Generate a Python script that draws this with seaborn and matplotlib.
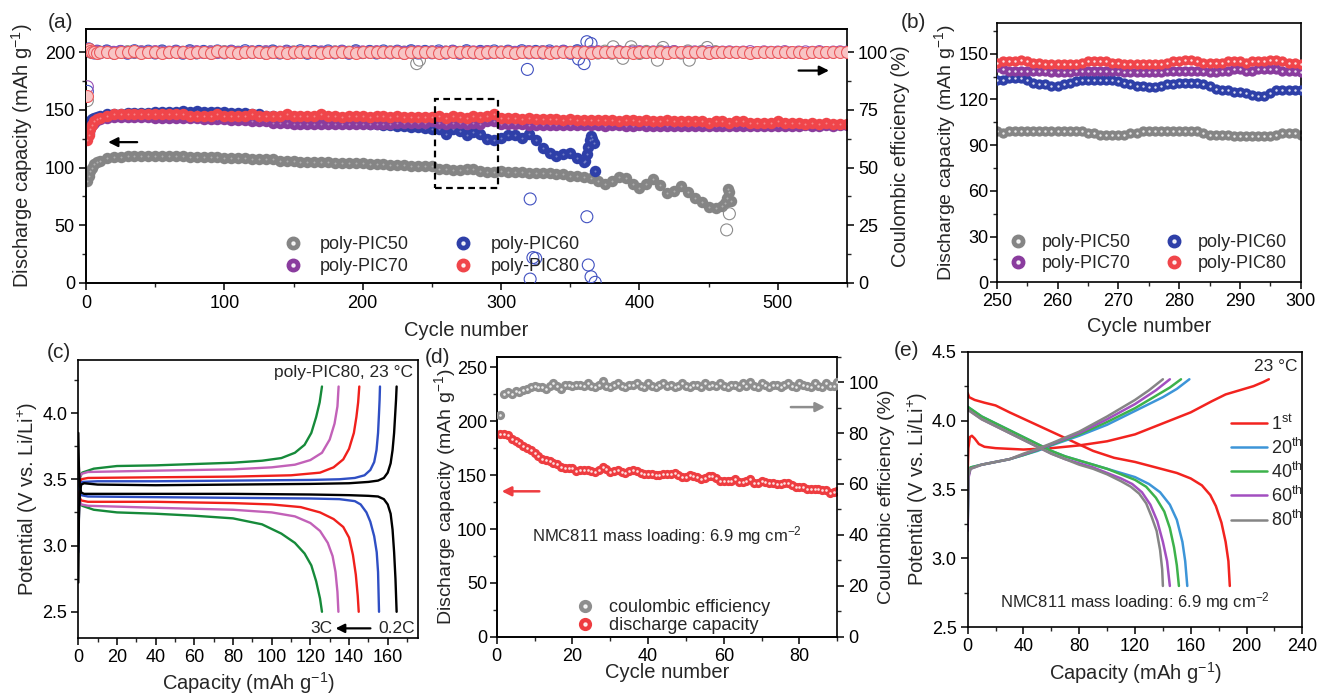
import matplotlib
matplotlib.use("Agg")
import matplotlib.pyplot as plt
from matplotlib.lines import Line2D
from matplotlib.ticker import MultipleLocator, FormatStrFormatter
import seaborn as sns

W, H = 1317, 694

# ---------------------------------------------------------------------------
# (a) long-term cycling at 23 degC (cycle grid shared by all four electrolytes)
# ---------------------------------------------------------------------------
CYCLES_A = [1, 2, 3, 4, 6, 8, 10] + list(range(15, 551, 5))

CAP_PIC50 = [88, 93, 97, 100, 103, 105, 106,
             108, 109, 109, 110, 110, 110, 110, 110, 110, 110,
             110, 110, 109, 109, 109, 109, 109, 108, 108, 108,
             108, 107, 107, 107, 107, 106, 106, 106, 105, 105,
             105, 105, 105, 104, 104, 104, 104, 104, 103, 103,
             103, 102, 102, 102, 101, 101, 101, 101, 99, 99,
             98, 98, 99, 99, 97, 96, 96, 97, 96, 96,
             96, 95, 95, 95, 95, 94, 94, 93, 93, 92,
             91, 88, 86, 88, 92, 91, 86, 82, 86, 90,
             85, 78, 80, 84, 79, 74, 70, 66, 65, 67]
CAP_PIC50_END_CYC = [462, 463, 464, 465, 466]
CAP_PIC50_END = [69, 74, 81, 79, 71]

CAP_PIC60 = [133, 137, 140, 142, 143, 144, 145,
             146, 146, 146, 147, 147, 147, 147, 148, 148, 148,
             148, 149, 148, 149, 148, 148, 148, 148, 147, 147,
             147, 146, 146, 145, 145, 144, 144, 143, 143, 142,
             142, 142, 141, 141, 140, 140, 139, 139, 138, 138,
             137, 137, 136, 136, 135, 135, 134, 133, 133, 129,
             133, 132, 128, 131, 129, 125, 124, 126, 128, 128,
             126, 129, 124, 117, 113, 110, 112, 113, 108, 105]
CAP_PIC60_END_CYC = [361, 362, 363, 364, 365, 366, 367, 368]
CAP_PIC60_END = [106, 112, 118, 124, 127, 125, 121, 97]

CAP_PIC70 = [126, 130, 134, 137, 139, 141, 142,
             143, 144, 144, 144, 144, 144, 144, 143, 143, 143,
             143, 143, 143, 143, 142, 142, 142, 142, 141, 141,
             141, 140, 140, 140, 139, 139, 139, 138, 138, 138,
             138, 138, 138, 138, 138, 138, 138, 138, 138, 138,
             138, 138, 139, 139, 139, 139, 139, 140, 139, 138,
             139, 139, 138, 139, 138, 140, 140, 138, 138, 138,
             138, 137, 137, 137, 137, 137, 137, 137, 137, 137,
             137, 137, 136, 137, 137, 136, 136, 137, 136, 136,
             136, 136, 136, 136, 136, 136, 136, 136, 136, 136,
             136, 136, 136, 136, 136, 136, 136, 136, 136, 136,
             136, 137, 136, 136, 137, 136, 137, 137]

CAP_PIC80 = [124, 128, 133, 137, 140, 142, 143,
             145, 146, 146, 146, 146, 146, 146, 146, 146, 146,
             146, 146, 145, 145, 145, 145, 146, 145, 145, 145,
             145, 146, 145, 145, 145, 145, 146, 145, 145, 145,
             145, 146, 145, 145, 144, 145, 145, 145, 144, 145,
             145, 144, 145, 144, 144, 144, 144, 144, 145, 143,
             145, 144, 143, 145, 144, 145, 146, 143, 143, 143,
             142, 143, 142, 142, 142, 142, 141, 142, 141, 141,
             141, 141, 141, 141, 140, 141, 141, 140, 141, 140,
             140, 141, 140, 140, 140, 140, 140, 139, 140, 140,
             139, 140, 140, 139, 139, 139, 139, 140, 139, 139,
             139, 138, 139, 138, 139, 138, 138, 138]

CE_PIC50 = [79, 100.6, 100.2, 99.8, 100.1, 99.9, 100.0,
            100.3, 99.7, 100.0, 100.2, 99.8, 100.1, 99.9, 100.0, 100.2, 99.8,
            100.1, 99.9, 100.2, 99.7, 100.0, 100.1, 99.8, 100.2, 99.9, 100.0,
            99.8, 100.1, 100.0, 99.9, 100.2, 99.8, 100.0, 100.1, 99.9, 100.0,
            100.2, 99.8, 100.0, 100.1, 99.9, 100.0, 100.2, 99.8, 100.1, 99.9,
            100.0, 100.1, 99.8, 100.0, 100.2, 99.9, 100.0, 100.1, 99.8, 100.0,
            100.2, 99.9, 100.1, 99.8, 100.0, 100.2, 99.9, 100.0, 100.1, 99.8,
            100.0, 100.1, 99.9, 100.2, 99.8, 100.0, 100.1, 99.9, 100.3, 99.7,
            100.2, 99.6, 100.4, 99.5, 100.3, 99.7, 100.5, 99.4, 100.3, 99.8,
            100.4, 99.5, 100.2, 99.6, 100.5, 99.7, 100.3, 99.5, 100.2, 99.8]
CE_PIC50_ODD_CYC = [239, 241, 381, 388, 394, 413, 417, 436, 449, 463, 465]
CE_PIC50_ODD = [95.0, 96.5, 102.3, 97.3, 102.3, 96.5, 102.0, 96.5, 102.0, 23.0, 30.0]

CE_PIC60 = [83, 101.4, 100.6, 100.2, 99.6, 100.4, 99.7,
            100.5, 99.6, 100.3, 99.5, 100.6, 99.7, 100.4, 99.6, 100.5, 99.8,
            100.4, 99.5, 100.6, 99.7, 100.3, 99.6, 100.5, 99.7, 100.4, 99.5,
            100.6, 99.8, 100.3, 99.5, 100.5, 99.6, 100.4, 99.7, 100.6, 99.5,
            100.3, 99.6, 100.5, 99.7, 100.4, 99.5, 100.6, 99.8, 100.3, 99.6,
            100.5, 99.7, 100.4, 99.5, 100.6, 99.6, 100.3, 99.7, 100.5, 99.6,
            100.4, 99.5, 100.6, 99.7, 100.3, 99.6, 100.5, 99.8, 100.4, 99.5,
            100.6, 99.7, 100.3, 99.6, 100.5, 99.7, 100.4, 99.5, 100.6, 99.8]
CE_PIC60_ODD_CYC = [319, 321, 321, 323, 325, 356, 360, 362, 362, 363, 365, 365, 368]
CE_PIC60_ODD = [92.5, 36.4, 1.7, 11.0, 10.7, 97.0, 95.0, 104.5, 28.7, 7.8, 103.7, 2.7, 0.3]

CE_PIC70 = [85, 101.0, 100.4, 100.1, 99.9, 100.2, 99.8,
            100.1, 99.9, 100.2, 99.8, 100.0, 100.1, 99.9, 100.2, 99.8, 100.0,
            100.1, 99.9, 100.0, 100.2, 99.8, 100.1, 99.9, 100.0, 100.2, 99.8,
            100.0, 100.1, 99.9, 100.2, 99.8, 100.0, 100.1, 99.9, 100.0, 100.2,
            99.8, 100.1, 99.9, 100.0, 100.2, 99.8, 100.0, 100.1, 99.9, 100.2,
            99.8, 100.0, 100.1, 99.9, 100.0, 100.2, 99.8, 100.1, 99.9, 100.0,
            100.2, 99.8, 100.0, 100.1, 99.9, 100.2, 99.8, 100.0, 100.1, 99.9,
            100.0, 100.2, 99.8, 100.1, 99.9, 100.0, 100.2, 99.8, 100.0, 100.1,
            99.9, 100.2, 99.8, 100.0, 100.1, 99.9, 100.0, 100.2, 99.8, 100.1,
            99.9, 100.0, 100.2, 99.8, 100.0, 100.1, 99.9, 100.2, 99.8, 100.0,
            100.1, 99.9, 100.0, 100.2, 99.8, 100.1, 99.9, 100.0, 100.2, 99.8,
            100.0, 100.1, 99.9, 100.2, 99.8, 100.0, 100.1, 100.0]

CE_PIC80 = [81, 101.5, 100.5, 100.2, 100.0, 99.8, 100.0,
            100.2, 99.8, 100.1, 99.9, 100.3, 99.7, 100.0, 100.2, 99.8, 100.1,
            99.9, 100.2, 99.7, 100.1, 100.0, 99.8, 100.3, 99.9, 100.0, 99.8,
            100.1, 99.9, 100.2, 99.8, 100.0, 100.1, 99.7, 100.0, 100.2, 99.9,
            100.0, 99.8, 100.1, 100.0, 99.9, 100.2, 99.8, 100.0, 100.1, 99.9,
            100.1, 99.9, 100.0, 99.8, 100.2, 100.0, 99.9, 100.1, 99.8, 100.0,
            100.2, 99.9, 100.0, 100.1, 99.8, 100.0, 100.2, 99.9, 100.0, 99.8,
            100.1, 100.0, 99.9, 100.2, 99.8, 100.0, 100.1, 99.9, 100.0, 100.2,
            99.8, 100.0, 100.1, 99.9, 100.0, 100.2, 99.8, 100.0, 100.1, 99.9,
            100.0, 99.8, 100.2, 100.0, 99.9, 100.1, 100.0, 99.8, 100.1, 100.0,
            99.9, 100.2, 100.0, 99.8, 100.1, 99.9, 100.0, 100.2, 99.9, 100.0,
            100.1, 99.8, 100.0, 100.2, 99.9, 100.0, 100.1, 99.9]

# ---------------------------------------------------------------------------
# (b) close-up of cycles 250-300
# ---------------------------------------------------------------------------
CYCLES_B = list(range(250, 301))
B_PIC50 = [99, 98, 99, 99, 99, 99, 99, 99, 99, 99,
           99, 99, 99, 99, 99, 98, 98, 97, 97, 97,
           97, 97, 98, 98, 99, 99, 99, 99, 99, 99,
           99, 99, 99, 99, 98, 97, 97, 97, 97, 96,
           96, 96, 96, 96, 96, 96, 97, 98, 98, 98, 97]
B_PIC60 = [133, 133, 134, 134, 134, 133, 131, 130, 130, 129,
           129, 130, 131, 132, 133, 133, 133, 133, 133, 133,
           132, 131, 130, 129, 129, 128, 128, 129, 130, 130,
           131, 131, 131, 131, 130, 129, 127, 126, 126, 125,
           125, 124, 123, 122, 122, 124, 126, 126, 126, 126, 126]
B_PIC70 = [141, 140, 139, 139, 139, 139, 139, 139, 139, 138,
           138, 138, 138, 139, 139, 139, 139, 139, 139, 139,
           139, 138, 138, 138, 138, 138, 138, 138, 139, 139,
           139, 139, 139, 139, 139, 138, 138, 139, 139, 140,
           140, 139, 139, 140, 140, 140, 140, 139, 139, 139, 138]
B_PIC80 = [144, 145, 145, 145, 146, 145, 144, 144, 143, 143,
           143, 143, 143, 143, 144, 145, 145, 145, 145, 144,
           144, 143, 143, 143, 143, 143, 143, 143, 144, 145,
           145, 146, 146, 145, 144, 144, 144, 144, 145, 145,
           145, 144, 145, 145, 145, 146, 146, 145, 144, 144, 143]

# ---------------------------------------------------------------------------
# (c) rate capability of poly-PIC80 (capacity mAh/g, potential V)
# ---------------------------------------------------------------------------
CHG_02C_Q = [0, 0.3, 0.8, 1.5, 3, 10, 40, 80, 120, 140, 150, 155, 158, 160, 161.5, 162.5, 163.3, 163.9, 164.3, 164.6]
CHG_02C_V = [2.72, 3.20, 3.40, 3.46, 3.47, 3.46, 3.455, 3.46, 3.465, 3.47, 3.48, 3.49, 3.51, 3.55, 3.62, 3.72, 3.85, 4.00, 4.10, 4.20]
DIS_02C_Q = [0, 0.3, 0.8, 1.5, 3, 40, 80, 120, 140, 150, 155, 158, 160, 161.5, 162.5, 163.3, 164.0, 164.6]
DIS_02C_V = [3.85, 3.60, 3.45, 3.40, 3.39, 3.39, 3.39, 3.385, 3.38, 3.375, 3.37, 3.35, 3.31, 3.24, 3.12, 2.95, 2.75, 2.50]
CHG_05C_Q = [0, 0.4, 1, 2, 10, 40, 80, 120, 135, 143, 148, 151, 153, 154.2, 155, 155.5, 155.8, 156]
CHG_05C_V = [2.95, 3.30, 3.45, 3.48, 3.485, 3.485, 3.49, 3.495, 3.50, 3.51, 3.53, 3.57, 3.63, 3.72, 3.85, 4.00, 4.10, 4.20]
DIS_05C_Q = [0, 0.5, 1.5, 5, 40, 80, 120, 135, 143, 146, 149, 151, 153, 154.3, 155, 155.5]
DIS_05C_V = [3.50, 3.42, 3.38, 3.37, 3.365, 3.36, 3.355, 3.35, 3.335, 3.31, 3.25, 3.18, 3.07, 2.95, 2.80, 2.50]
CHG_1C_Q = [0, 0.5, 1.5, 5, 40, 80, 110, 125, 132, 137, 140, 142.5, 143.8, 144.7, 145.3]
CHG_1C_V = [3.33, 3.45, 3.50, 3.51, 3.515, 3.52, 3.53, 3.55, 3.59, 3.65, 3.73, 3.85, 3.97, 4.08, 4.20]
DIS_1C_Q = [0, 0.5, 1.5, 5, 40, 80, 100, 115, 125, 132, 137, 140, 142, 143.5, 144.5, 145]
DIS_1C_V = [3.42, 3.37, 3.34, 3.33, 3.33, 3.32, 3.31, 3.29, 3.25, 3.20, 3.14, 3.06, 2.93, 2.78, 2.62, 2.50]
CHG_2C_Q = [0, 0.5, 1.5, 5, 40, 80, 100, 112, 120, 126, 130, 132.5, 134, 134.6]
CHG_2C_V = [3.36, 3.50, 3.54, 3.555, 3.565, 3.575, 3.59, 3.61, 3.645, 3.70, 3.80, 3.92, 4.05, 4.20]
DIS_2C_Q = [0, 0.5, 1.5, 5, 40, 80, 100, 112, 120, 125, 129, 131.5, 133, 134, 134.5]
DIS_2C_V = [3.40, 3.34, 3.31, 3.30, 3.285, 3.27, 3.25, 3.22, 3.17, 3.11, 3.02, 2.92, 2.80, 2.65, 2.50]
CHG_3C_Q = [0, 0.5, 2, 8, 20, 40, 60, 80, 95, 105, 112, 117, 120.5, 123, 124.8, 126]
CHG_3C_V = [3.38, 3.50, 3.55, 3.58, 3.60, 3.605, 3.615, 3.625, 3.64, 3.66, 3.70, 3.76, 3.85, 3.97, 4.08, 4.20]
DIS_3C_Q = [0, 0.5, 2, 8, 20, 40, 60, 80, 95, 105, 112, 117, 120.5, 123, 125, 126]
DIS_3C_V = [3.38, 3.33, 3.30, 3.27, 3.25, 3.24, 3.225, 3.205, 3.16, 3.09, 3.02, 2.94, 2.85, 2.73, 2.60, 2.50]

# ---------------------------------------------------------------------------
# (d) NMC811 full cell cycling
# ---------------------------------------------------------------------------
CYCLES_D = list(range(1, 91))
D_CAPACITY = [188, 188, 187, 184, 182, 180, 177, 175, 173, 171,
              168, 165, 164, 163, 161, 160, 158, 157, 157, 157,
              154, 155, 155, 155, 154, 153, 155, 158, 156, 153,
              154, 155, 153, 152, 154, 155, 154, 152, 151, 151,
              151, 150, 150, 151, 151, 151, 152, 150, 148, 148,
              150, 149, 148, 146, 147, 149, 149, 147, 145, 145,
              145, 145, 146, 144, 144, 145, 146, 143, 143, 145,
              144, 143, 143, 142, 142, 143, 143, 141, 139, 139,
              139, 137, 137, 137, 137, 136, 136, 133, 134, 135]
D_CE = [87, 95.5, 96, 95.5, 96.5, 96, 97, 97.5, 98, 98.5,
        98, 98, 97.5, 98.5, 99.5, 98.5, 97.5, 99, 99, 98.5,
        99, 99, 98.5, 99.5, 98.5, 98, 99, 100.5, 98.5, 98,
        99, 99.5, 98.5, 98, 99, 99, 99.5, 98.5, 98, 99.5,
        98.5, 98, 99, 99.5, 98.5, 99, 98, 98.5, 99.5, 98.5,
        98, 99, 99, 98, 99.5, 98.5, 99, 98.5, 99.5, 98.5,
        98, 99, 99, 98, 99.5, 98.5, 100, 98.5, 98, 99.5,
        99, 98, 99, 99, 98, 99, 99.5, 98.5, 98, 99.5,
        99, 98.5, 98, 99.5, 98.5, 98, 99.5, 98.5, 98.5, 100]

# ---------------------------------------------------------------------------
# (e) NMC811 charge/discharge profiles
# ---------------------------------------------------------------------------
E_LABELS = ["1$^{\\mathrm{st}}$", "20$^{\\mathrm{th}}$", "40$^{\\mathrm{th}}$",
            "60$^{\\mathrm{th}}$", "80$^{\\mathrm{th}}$"]
E1_CHG_Q = [0, 0.5, 1.5, 3, 5, 8, 12, 20, 40, 60, 80, 100, 120, 140, 160, 175, 185, 195, 205, 212, 216]
E1_CHG_V = [3.62, 3.80, 3.88, 3.89, 3.87, 3.83, 3.81, 3.80, 3.79, 3.80, 3.82, 3.85, 3.90, 3.98, 4.06, 4.14, 4.19, 4.22, 4.25, 4.28, 4.30]
E1_DIS_Q = [0, 1, 5, 12, 20, 30, 45, 60, 75, 90, 105, 120, 135, 150, 160, 168, 174, 178, 182, 185, 187, 188]
E1_DIS_V = [4.20, 4.17, 4.15, 4.13, 4.11, 4.06, 3.99, 3.92, 3.85, 3.78, 3.73, 3.70, 3.66, 3.62, 3.58, 3.53, 3.46, 3.38, 3.26, 3.12, 2.98, 2.80]
E20_CHG_Q = [0, 0.5, 2, 10, 20, 30, 40, 50, 60, 80, 100, 120, 140, 150, 159]
E20_CHG_V = [3.25, 3.60, 3.66, 3.68, 3.70, 3.72, 3.75, 3.78, 3.82, 3.89, 3.97, 4.07, 4.17, 4.23, 4.30]
E20_DIS_Q = [0, 10, 20, 30, 40, 50, 60, 70, 80, 90, 100, 110, 120, 130, 138, 145, 150, 154, 156, 157.5]
E20_DIS_V = [4.10, 4.03, 3.98, 3.93, 3.88, 3.83, 3.78, 3.74, 3.71, 3.68, 3.65, 3.62, 3.59, 3.54, 3.48, 3.39, 3.28, 3.12, 2.98, 2.80]
E40_CHG_Q = [0, 0.5, 2, 10, 20, 30, 40, 50, 60, 80, 100, 120, 135, 145, 153]
E40_CHG_V = [3.25, 3.60, 3.66, 3.68, 3.70, 3.72, 3.75, 3.785, 3.825, 3.90, 3.99, 4.09, 4.18, 4.24, 4.30]
E40_DIS_Q = [0, 10, 20, 30, 40, 50, 60, 70, 80, 90, 100, 110, 120, 128, 135, 141, 145, 148, 150, 151.5]
E40_DIS_V = [4.10, 4.03, 3.98, 3.93, 3.88, 3.83, 3.78, 3.74, 3.71, 3.68, 3.65, 3.61, 3.57, 3.52, 3.44, 3.34, 3.22, 3.08, 2.95, 2.80]
E60_CHG_Q = [0, 0.5, 2, 10, 20, 30, 40, 50, 60, 80, 100, 120, 135, 145]
E60_CHG_V = [3.20, 3.58, 3.65, 3.68, 3.70, 3.72, 3.755, 3.79, 3.83, 3.91, 4.01, 4.12, 4.22, 4.30]
E60_DIS_Q = [0, 10, 20, 30, 40, 50, 60, 70, 80, 90, 100, 110, 118, 125, 131, 136, 140, 143, 145]
E60_DIS_V = [4.08, 4.01, 3.96, 3.91, 3.86, 3.81, 3.76, 3.72, 3.69, 3.66, 3.62, 3.58, 3.54, 3.48, 3.39, 3.27, 3.12, 2.98, 2.80]
E80_CHG_Q = [0, 0.5, 2, 10, 20, 30, 40, 50, 60, 80, 100, 120, 130, 140]
E80_CHG_V = [3.30, 3.60, 3.65, 3.68, 3.70, 3.72, 3.76, 3.795, 3.835, 3.92, 4.03, 4.15, 4.22, 4.30]
E80_DIS_Q = [0, 10, 20, 30, 40, 50, 60, 70, 80, 90, 100, 110, 117, 123, 128, 132, 135.5, 138, 139.5, 140]
E80_DIS_V = [4.08, 4.01, 3.96, 3.91, 3.86, 3.81, 3.76, 3.72, 3.68, 3.65, 3.61, 3.56, 3.52, 3.47, 3.40, 3.30, 3.20, 3.06, 2.92, 2.80]

# ---------------------------------------------------------------------------
# styling
# ---------------------------------------------------------------------------
sns.set_theme(style="ticks")
plt.rcParams["font.family"] = ["Liberation Sans", "DejaVu Sans"]
plt.rcParams["mathtext.fontset"] = "custom"
plt.rcParams["mathtext.rm"] = "Liberation Sans"
plt.rcParams["mathtext.it"] = "Liberation Sans:italic"
plt.rcParams["mathtext.bf"] = "Liberation Sans:bold"
plt.rcParams["axes.unicode_minus"] = True

GRAY, BLUE, PURPLE, RED = "#858585", "#2e3fa8", "#8a3c9e", "#f0454a"
TICK_FS, LABEL_FS, LEG_FS, NOTE_FS = 13, 14.5, 13, 12

fig = plt.figure(figsize=(W / 100, H / 100), dpi=100)


def box(l, t, r, b):
    return [l / W, 1 - b / H, (r - l) / W, (b - t) / H]


def fx(px):
    return px / W


def fy(py):
    return 1 - py / H


def style(ax, xlim, ylim, xmaj, xmin, ymaj, ymin, ypad=3):
    ax.set_xlim(*xlim)
    ax.set_ylim(*ylim)
    ax.xaxis.set_major_locator(MultipleLocator(xmaj))
    ax.xaxis.set_minor_locator(MultipleLocator(xmin))
    ax.yaxis.set_major_locator(MultipleLocator(ymaj))
    ax.yaxis.set_minor_locator(MultipleLocator(ymin))
    for s in ax.spines.values():
        s.set_visible(True)
        s.set_linewidth(1.2)
        s.set_color("black")
    ax.tick_params(which="major", direction="out", length=5, width=1.1,
                   labelsize=TICK_FS, pad=3, colors="black")
    ax.tick_params(which="minor", direction="out", length=3, width=1.0)
    ax.tick_params(axis="y", which="major", pad=ypad)
    ax.set_facecolor("none")


def label_at(axis, text, cx, cy, size=LABEL_FS):
    axis.set_label_text(text, fontsize=size)
    axis.set_label_coords(fx(cx), fy(cy), transform=fig.transFigure)
    axis.label.set_va("center")
    axis.label.set_ha("center")
    axis.label.set_rotation_mode("anchor")


def balls(ax, x, y, color, s=52, hl_size=3.0, hl_alpha=0.85, z=2):
    sns.scatterplot(x=x, y=y, color=color, s=s, linewidth=0, ax=ax,
                    zorder=z, legend=False)
    if hl_size:
        ax.scatter(x, y, s=hl_size, color="white", alpha=hl_alpha,
                   linewidths=0, zorder=z + 0.01)


def rings(ax, x, y, edge, face="none", s=74, z=2):
    sns.scatterplot(x=x, y=y, s=s, facecolor=face, edgecolor=edge,
                    linewidth=0.8, ax=ax, zorder=z, legend=False)


def ball_handle(color, ms=9):
    base = Line2D([], [], ls="none", marker="o", ms=ms, mfc=color, mec=color)
    hi = Line2D([], [], ls="none", marker="o", ms=2.2, mfc="white", mec="white", alpha=0.85)
    return (base, hi)


def legend_at(ax, handles, labels, left, top, **kw):
    opts = dict(frameon=False, fontsize=LEG_FS, borderpad=0, borderaxespad=0,
                loc="upper left", bbox_to_anchor=(fx(left), fy(top)),
                bbox_transform=fig.transFigure)
    opts.update(kw)
    return ax.legend(handles, labels, **opts)


def ftext(px, py, s, **kw):
    kw.setdefault("fontsize", NOTE_FS)
    fig.text(fx(px), fy(py), s, **kw)


# ------------------------------- panel (a) ---------------------------------
axa = fig.add_axes(box(86, 29, 847, 283))
axa2 = axa.twinx()
style(axa, (0, 550), (0, 220), 100, 50, 50, 25)
style(axa2, (0, 550), (0, 110), 100, 50, 25, 12.5)
axa.spines["right"].set_visible(False)

balls(axa, CYCLES_A[:len(CAP_PIC50)] + CAP_PIC50_END_CYC, CAP_PIC50 + CAP_PIC50_END,
      GRAY, s=68, hl_size=2.0, hl_alpha=0.35, z=2)
balls(axa, CYCLES_A[:len(CAP_PIC60)] + CAP_PIC60_END_CYC, CAP_PIC60 + CAP_PIC60_END,
      BLUE, s=68, hl_size=2.0, hl_alpha=0.35, z=3)
balls(axa, CYCLES_A[:len(CAP_PIC70)], CAP_PIC70, PURPLE, s=68, hl_size=2.0, hl_alpha=0.35, z=4)
balls(axa, CYCLES_A[:len(CAP_PIC80)], CAP_PIC80, RED, s=68, hl_size=2.0, hl_alpha=0.35, z=5)

rings(axa2, CYCLES_A[:len(CE_PIC50)] + CE_PIC50_ODD_CYC, CE_PIC50 + CE_PIC50_ODD, "#8c8c8c", z=2)
rings(axa2, CYCLES_A[:len(CE_PIC60)] + CE_PIC60_ODD_CYC, CE_PIC60 + CE_PIC60_ODD, "#4050c0", z=3)
rings(axa2, CYCLES_A[:len(CE_PIC70)], CE_PIC70, "#9a50b5", z=4)
rings(axa2, CYCLES_A[:len(CE_PIC80)], CE_PIC80, "#ec5a5e", face="#f8c4c4", z=5)

# dashed frame marking the cycles shown in (b)
axa.add_patch(plt.Rectangle((252, 82), 46, 77, fill=False, ls=(0, (3, 2)),
                            lw=1.6, ec="black", zorder=8))
axa.annotate("", xy=(14, 122), xytext=(39, 122),
             arrowprops=dict(arrowstyle="-|>", color="black", lw=1.6,
                             mutation_scale=14), zorder=9)
axa2.annotate("", xy=(539, 92), xytext=(513, 92),
              arrowprops=dict(arrowstyle="-|>", color="black", lw=1.6,
                              mutation_scale=14), zorder=9)

label_at(axa.xaxis, "Cycle number", 466, 331)
label_at(axa.yaxis, "Discharge capacity (mAh g$^{-1}$)", 22, 156)
label_at(axa2.yaxis, "Coulombic efficiency (%)", 900, 156)
axa.tick_params(axis="x", pad=4)

hs = [ball_handle(c) for c in (GRAY, PURPLE, BLUE, RED)]
legend_at(axa2, hs, ["poly-PIC50", "poly-PIC70", "poly-PIC60", "poly-PIC80"],
          284, 236, ncol=2, handlelength=1.0, handletextpad=1.0,
          columnspacing=2.5, labelspacing=0.28)
ftext(48, 23, "(a)", fontsize=15, va="center", ha="left")

# ------------------------------- panel (b) ---------------------------------
axb = fig.add_axes(box(996.7, 23.3, 1300.7, 282.3))
style(axb, (250, 300), (0, 170), 10, 5, 30, 15, ypad=1)
balls(axb, CYCLES_B, B_PIC50, GRAY, s=55, z=2)
balls(axb, CYCLES_B, B_PIC60, BLUE, s=55, z=3)
balls(axb, CYCLES_B, B_PIC70, PURPLE, s=55, z=4)
balls(axb, CYCLES_B, B_PIC80, RED, s=55, z=5)
label_at(axb.xaxis, "Cycle number", 1148.7, 326.7)
label_at(axb.yaxis, "Discharge capacity (mAh g$^{-1}$)", 945, 152.8, size=14)
legend_at(axb, hs, ["poly-PIC50", "poly-PIC70", "poly-PIC60", "poly-PIC80"],
          1009, 234, ncol=2, handlelength=1.0, handletextpad=0.8,
          columnspacing=1.9, labelspacing=0.22)
ftext(901, 22, "(b)", fontsize=15, va="center", ha="left")

# ------------------------------- panel (c) ---------------------------------
axc = fig.add_axes(box(78.3, 360, 417.7, 638.3))
style(axc, (0, 175.5), (2.3, 4.4), 20, 10, 0.5, 0.25)
curves_c = [
    (CHG_02C_Q, CHG_02C_V, DIS_02C_Q, DIS_02C_V, "black"),
    (CHG_05C_Q, CHG_05C_V, DIS_05C_Q, DIS_05C_V, "#2f4fc4"),
    (CHG_1C_Q, CHG_1C_V, DIS_1C_Q, DIS_1C_V, "#f0201c"),
    (CHG_2C_Q, CHG_2C_V, DIS_2C_Q, DIS_2C_V, "#c261b8"),
    (CHG_3C_Q, CHG_3C_V, DIS_3C_Q, DIS_3C_V, "#168a3a"),
]
for cq, cv, dq, dv, col in curves_c[::-1]:
    sns.lineplot(x=cq, y=cv, sort=False, estimator=None, color=col, lw=1.7, ax=axc)
    sns.lineplot(x=dq, y=dv, sort=False, estimator=None, color=col, lw=1.7, ax=axc)
axc.yaxis.set_major_formatter(FormatStrFormatter("%.1f"))
label_at(axc.xaxis, "Capacity (mAh g$^{-1}$)", 248, 683)
label_at(axc.yaxis, "Potential (V vs. Li/Li$^{+}$)", 28, 499)
axc.text(0.985, 0.955, "poly-PIC80, 23 \u00b0C", transform=axc.transAxes,
         ha="right", va="center", fontsize=NOTE_FS + 0.5)
axc.text(155, 2.375, "0.2C", ha="left", va="center", fontsize=NOTE_FS + 0.5)
axc.text(131.5, 2.375, "3C", ha="right", va="center", fontsize=NOTE_FS + 0.5)
axc.annotate("", xy=(131.6, 2.375), xytext=(152.5, 2.375),
             arrowprops=dict(arrowstyle="-|>", color="black", lw=1.6, mutation_scale=13))
ftext(47, 352, "(c)", fontsize=15, va="center", ha="left")

# ------------------------------- panel (d) ---------------------------------
axd = fig.add_axes(box(496.7, 356.7, 837.3, 636.7))
axd2 = axd.twinx()
style(axd, (0, 90), (0, 260), 20, 10, 50, 25, ypad=2)
style(axd2, (0, 90), (0, 110), 20, 10, 20, 10)
axd.spines["right"].set_visible(False)
balls(axd, CYCLES_D, D_CAPACITY, "#ee3c40", s=44, hl_size=3.5, z=3)
balls(axd2, CYCLES_D, D_CE, "#8e8e8e", s=44, hl_size=3.5, z=3)
axd.annotate("", xy=(0.6, 135), xytext=(12, 135),
             arrowprops=dict(arrowstyle="-|>", color="#ee3c40", lw=1.8, mutation_scale=14))
axd2.annotate("", xy=(87.5, 90.2), xytext=(77, 90.2),
              arrowprops=dict(arrowstyle="-|>", color="#8e8e8e", lw=1.8, mutation_scale=14))
axd.text(0.5, 0.363, "NMC811 mass loading: 6.9 mg cm$^{-2}$", transform=axd.transAxes,
         ha="center", va="center", fontsize=NOTE_FS)
label_at(axd.xaxis, "Cycle number", 666.7, 673)
label_at(axd.yaxis, "Discharge capacity (mAh g$^{-1}$)", 445, 497, size=14)
label_at(axd2.yaxis, "Coulombic efficiency (%)", 887, 497, size=14)
legend_at(axd2, [ball_handle("#8e8e8e", 8.5), ball_handle("#ee3c40", 8.5)],
          ["coulombic efficiency", "discharge capacity"], 576, 599,
          handlelength=1.0, handletextpad=0.85, labelspacing=0.08)
ftext(425, 358, "(d)", fontsize=15, va="center", ha="left")

# ------------------------------- panel (e) ---------------------------------
axe = fig.add_axes(box(967.7, 351.7, 1302.3, 627.3))
style(axe, (0, 240), (2.5, 4.5), 40, 20, 0.5, 0.25)
curves_e = [
    (E1_CHG_Q, E1_CHG_V, E1_DIS_Q, E1_DIS_V, "#f2231f"),
    (E20_CHG_Q, E20_CHG_V, E20_DIS_Q, E20_DIS_V, "#3d95d8"),
    (E40_CHG_Q, E40_CHG_V, E40_DIS_Q, E40_DIS_V, "#3db24b"),
    (E60_CHG_Q, E60_CHG_V, E60_DIS_Q, E60_DIS_V, "#a24fc0"),
    (E80_CHG_Q, E80_CHG_V, E80_DIS_Q, E80_DIS_V, "#858585"),
]
for cq, cv, dq, dv, col in curves_e:
    sns.lineplot(x=cq, y=cv, sort=False, estimator=None, color=col, lw=1.8, ax=axe)
    sns.lineplot(x=dq, y=dv, sort=False, estimator=None, color=col, lw=1.8, ax=axe)
axe.yaxis.set_major_formatter(FormatStrFormatter("%.1f"))
label_at(axe.xaxis, "Capacity (mAh g$^{-1}$)", 1135, 673)
label_at(axe.yaxis, "Potential (V vs. Li/Li$^{+}$)", 918, 489)
axe.text(0.985, 0.945, "23 \u00b0C", transform=axe.transAxes,
         ha="right", va="center", fontsize=NOTE_FS + 0.5)
axe.text(0.5, 0.095, "NMC811 mass loading: 6.9 mg cm$^{-2}$", transform=axe.transAxes,
         ha="center", va="center", fontsize=NOTE_FS)
e_handles = [Line2D([], [], color=c[4], lw=1.8) for c in curves_e]
legend_at(axe, e_handles, E_LABELS, 1231, 414, handlelength=2.0,
          handletextpad=0.2, labelspacing=0.22)
ftext(894, 350, "(e)", fontsize=15, va="center", ha="left")

fig.savefig("out.png", dpi=100)
